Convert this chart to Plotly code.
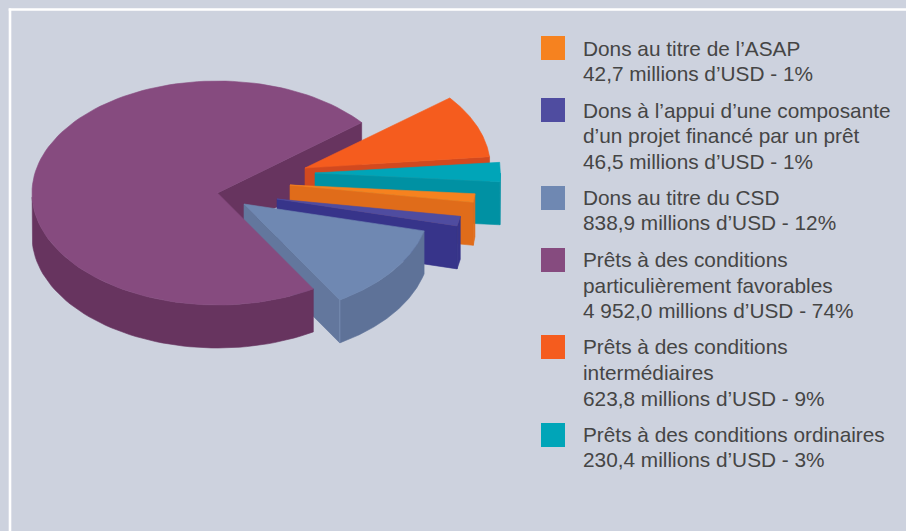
import numpy as np
import plotly.graph_objects as go

# Legend order; each entry is a list of text lines
categories = [
    ["Dons au titre de l’ASAP"],
    ["Dons à l’appui d’une composante", "d’un projet financé par un prêt"],
    ["Dons au titre du CSD"],
    ["Prêts à des conditions", "particulièrement favorables"],
    ["Prêts à des conditions", "intermédiaires"],
    ["Prêts à des conditions ordinaires"],
]
amount_labels = ["42,7", "46,5", "838,9", "4 952,0", "623,8", "230,4"]
percent_labels = [1, 1, 12, 74, 9, 3]
# Share of the pie as drawn in the picture (%), estimated from the slices
drawn_share = [1.22, 1.39, 12.5, 72.8, 9.22, 2.86]

# Styles and layout
top_colors = ["#f6821f", "#4f4ca0", "#6f88b2", "#864b7f", "#f55c1e", "#00a5b8"]
wall_colors = ["#e06c1a", "#37348a", "#5e7298", "#67345f", "#d2491f", "#0091a3"]
cut_colors = ["#e06c1a", "#37348a", "#63779d", "#67345f", "#d2491f", "#0091a3"]
explode = [(72.5, -8), (59.5, 6), (26.5, 11), (0, 0), (87.5, -25), (97.5, -20)]
CX, CY, RX, RY, DEPTH = 217.5, 193, 185.5, 112, 43
START_DEG = 39
CLOCKWISE_ORDER = [4, 5, 0, 1, 2, 3]
BG = "#cdd2de"

total = sum(drawn_share)
spans = {}
t = START_DEG
for i in CLOCKWISE_ORDER:
    d = drawn_share[i] / total * 360
    spans[i] = (t, t - d)
    t -= d


def arc(i, n=120):
    t0, t1 = spans[i]
    a = np.radians(np.linspace(t0, t1, n))
    dx, dy = explode[i]
    return CX + dx + RX * np.cos(a), CY + dy - RY * np.sin(a)


def poly(xs, ys, color):
    xs = list(xs) + [xs[0]]
    ys = list(ys) + [ys[0]]
    return go.Scatter(
        x=xs, y=ys, mode="lines", fill="toself", fillcolor=color,
        line=dict(color=color, width=0.6), hoverinfo="skip", showlegend=False,
    )


def cut_face(i):
    ax, ay = arc(i)
    dx, dy = explode[i]
    px, py = CX + dx, CY + dy
    ex, ey = ax[-1], ay[-1]
    return poly([px, ex, ex, px], [py, ey, ey + DEPTH, py + DEPTH], cut_colors[i])


def outer_wall(i):
    ax, ay = arc(i)
    mask = np.sin(np.radians(np.linspace(spans[i][0], spans[i][1], len(ax)))) <= 0
    xs, ys = ax[mask], ay[mask]
    if len(xs) < 2:
        return None
    return poly(list(xs) + list(xs[::-1]),
                list(ys) + list(ys[::-1] + DEPTH), wall_colors[i])


def top_face(i):
    ax, ay = arc(i)
    dx, dy = explode[i]
    return poly([CX + dx] + list(ax), [CY + dy] + list(ay), top_colors[i])


fig = go.Figure()
purple = 3
fig.add_trace(cut_face(purple))
for i in CLOCKWISE_ORDER:
    if i != purple:
        fig.add_trace(cut_face(i))
    w = outer_wall(i)
    if w is not None:
        fig.add_trace(w)
    if i == 2:  # pale edge between the two side faces of the CSD slice
        ax, ay = arc(i)
        fig.add_trace(go.Scatter(
            x=[ax[-1], ax[-1]], y=[ay[-1], ay[-1] + DEPTH], mode="lines",
            line=dict(color="#7f93b8", width=0.8), hoverinfo="skip", showlegend=False,
        ))
    fig.add_trace(top_face(i))

legend_y = [48, 110, 198, 260, 347, 435]
line_y = [
    [48, 73],
    [110, 135, 161],
    [197, 222],
    [259, 285, 310],
    [346, 372, 398],
    [434, 459],
]
fig.add_trace(go.Scatter(
    x=[553] * 6, y=legend_y, mode="markers",
    marker=dict(symbol="square", size=24, color=top_colors, line=dict(width=0)),
    hoverinfo="skip", showlegend=False,
))
for i, cat in enumerate(categories):
    lines = cat + [f"{amount_labels[i]} millions d’USD - {percent_labels[i]}%"]
    for txt, y in zip(lines, line_y[i]):
        fig.add_annotation(
            x=583, y=y, xref="x", yref="y", xanchor="left", yanchor="middle",
            align="left", showarrow=False, borderpad=0, borderwidth=0, text=txt,
            font=dict(family="Liberation Sans", size=20.8, color="#454545"),
        )

frame = dict(type="line", xref="x", yref="y", line=dict(color="#ffffff", width=2.6), layer="below")
fig.add_shape(x0=10, x1=10, y0=8.5, y1=531, **frame)
fig.add_shape(x0=8.7, x1=906, y0=9.5, y1=9.5, **frame)

fig.update_layout(
    width=906, height=531, autosize=False,
    margin=dict(l=0, r=0, t=0, b=0),
    paper_bgcolor=BG, plot_bgcolor=BG,
    xaxis=dict(range=[0, 906], visible=False, fixedrange=True),
    yaxis=dict(range=[531, 0], visible=False, fixedrange=True),
)
fig.write_html("out.html", config={"displayModeBar": False},
               post_script="document.body.style.margin='0';")
